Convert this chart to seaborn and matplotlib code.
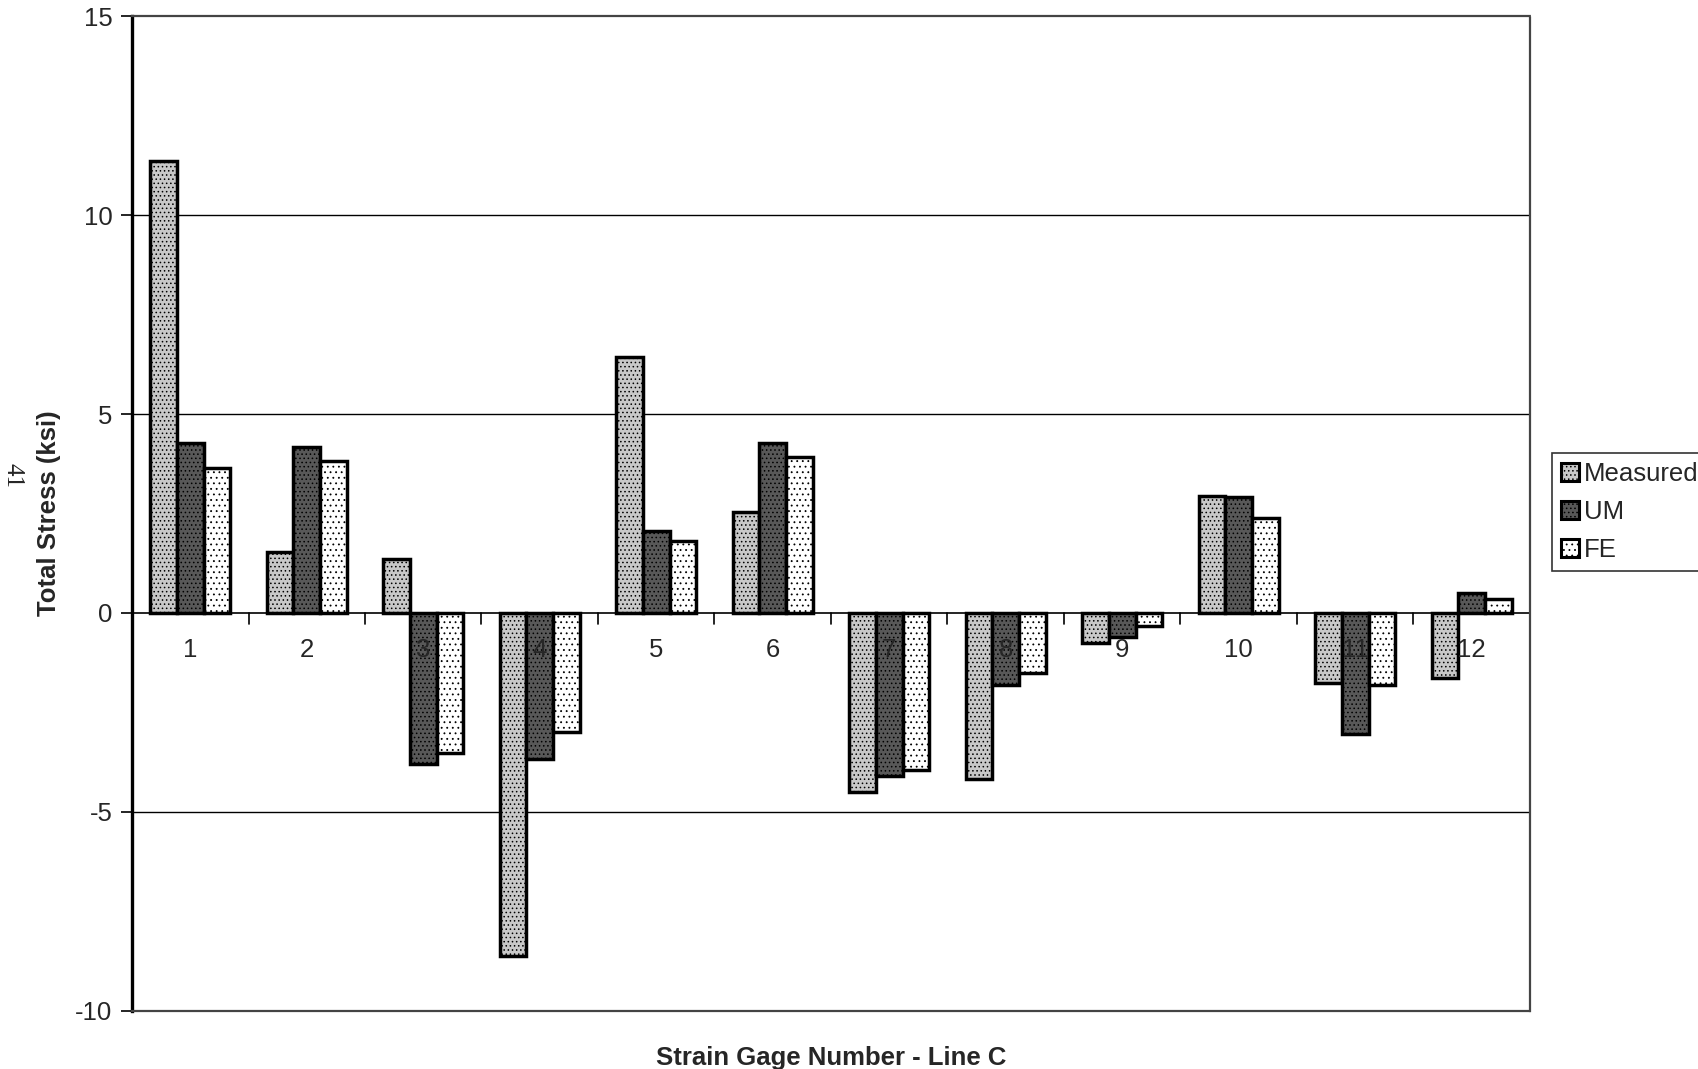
import matplotlib
matplotlib.use("Agg")
import matplotlib.pyplot as plt
import seaborn as sns
import pandas as pd
import numpy as np

gages = ["1", "2", "3", "4", "5", "6", "7", "8", "9", "10", "11", "12"]
measured = [11.36, 1.52, 1.36, -8.61, 6.44, 2.55, -4.51, -4.18, -0.76, 2.93, -1.77, -1.63]
um = [4.27, 4.16, -3.80, -3.67, 2.07, 4.27, -4.10, -1.82, -0.60, 2.91, -3.04, 0.49]
fe = [3.64, 3.83, -3.53, -2.99, 1.82, 3.91, -3.94, -1.52, -0.33, 2.39, -1.82, 0.35]
series = ["Measured", "UM", "FE"]
y_ticks = [-10, -5, 0, 5, 10, 15]

sns.set_theme(style="white")
plt.rcParams["font.family"] = ["Liberation Sans", "DejaVu Sans"]
plt.rcParams["hatch.linewidth"] = 0.6

df = pd.DataFrame({
    "Gage": gages * 3,
    "Stress": measured + um + fe,
    "Series": sum([[s] * len(gages) for s in series], []),
})

face = {"Measured": "#c8c8c8", "UM": "#585858", "FE": "#ffffff"}
hatch = {"Measured": "....", "UM": "....", "FE": "..."}

fig = plt.figure(figsize=(16.99, 10.69), dpi=100)
ax = fig.add_axes([0.0777, 0.0543, 0.8228, 0.9307])

sns.barplot(data=df, x="Gage", y="Stress", hue="Series", hue_order=series,
            order=gages, palette=face, width=0.69, gap=0, ax=ax,
            edgecolor="black", linewidth=2.5, saturation=1, legend=True)

for container, name in zip(ax.containers, series):
    for p in container:
        p.set_hatch(hatch[name])
        p.set_edgecolor("black")
        p.set_linewidth(2.5)
        p.set_zorder(3)

ax.set_ylim(-10, 15)
ax.set_xlim(-0.5, len(gages) - 0.5)
ax.set_yticks(y_ticks)
ax.set_yticklabels([str(v) for v in y_ticks], fontsize=18.5)

# horizontal gridlines
for v in [-5, 5, 10]:
    ax.axhline(v, color="black", linewidth=1.0, zorder=1)

# frame: dotted outline with a solid value axis
for side in ["top", "right", "bottom"]:
    ax.spines[side].set_visible(True)
    ax.spines[side].set_linestyle((0, (1, 1)))
    ax.spines[side].set_linewidth(1.6)
    ax.spines[side].set_color("#444444")
ax.spines["left"].set_color("black")
ax.spines["left"].set_linewidth(2.4)

# category axis on the zero line
ax.axhline(0, color="black", linewidth=1.2, zorder=2)
ax.set_xticks([])
ax.tick_params(axis="x", bottom=False, labelbottom=False)
for i in range(1, len(gages)):
    ax.plot([i - 0.5, i - 0.5], [0, -0.28], color="black", linewidth=1.2,
            zorder=2, clip_on=False)
for i, g in enumerate(gages):
    ax.text(i, -0.62, g, ha="center", va="top", fontsize=18.5, zorder=4)

ax.tick_params(axis="y", left=True, length=8, width=1.2, direction="out",
               color="black", pad=6)

ax.set_xlabel("Strain Gage Number - Line C", fontsize=18.5, fontweight="bold")
ax.xaxis.set_label_coords(0.5, -0.035, transform=ax.transAxes)
ax.set_ylabel("Total Stress (ksi)", fontsize=18.5, fontweight="bold")
ax.yaxis.set_label_coords(-0.051, 0.5, transform=ax.transAxes)

handles, labels = ax.get_legend_handles_labels()
for h, name in zip(handles, series):
    h.set_hatch(hatch[name])
    h.set_edgecolor("black")
    h.set_linewidth(2.2)
leg = ax.legend(handles, labels, loc="upper left", bbox_to_anchor=(1.0155, 0.561),
                fontsize=18.5, frameon=True, fancybox=False, edgecolor="black",
                handlelength=0.7, handleheight=0.7, handletextpad=0.2,
                labelspacing=0.55, borderpad=0.35, borderaxespad=0)
leg.get_frame().set_linewidth(1.2)

fig.text(0.0075, 0.555, "41", rotation=-90, fontsize=18, ha="center", va="center",
         family=["Liberation Serif", "DejaVu Serif"])

fig.savefig("out.png", dpi=100)
